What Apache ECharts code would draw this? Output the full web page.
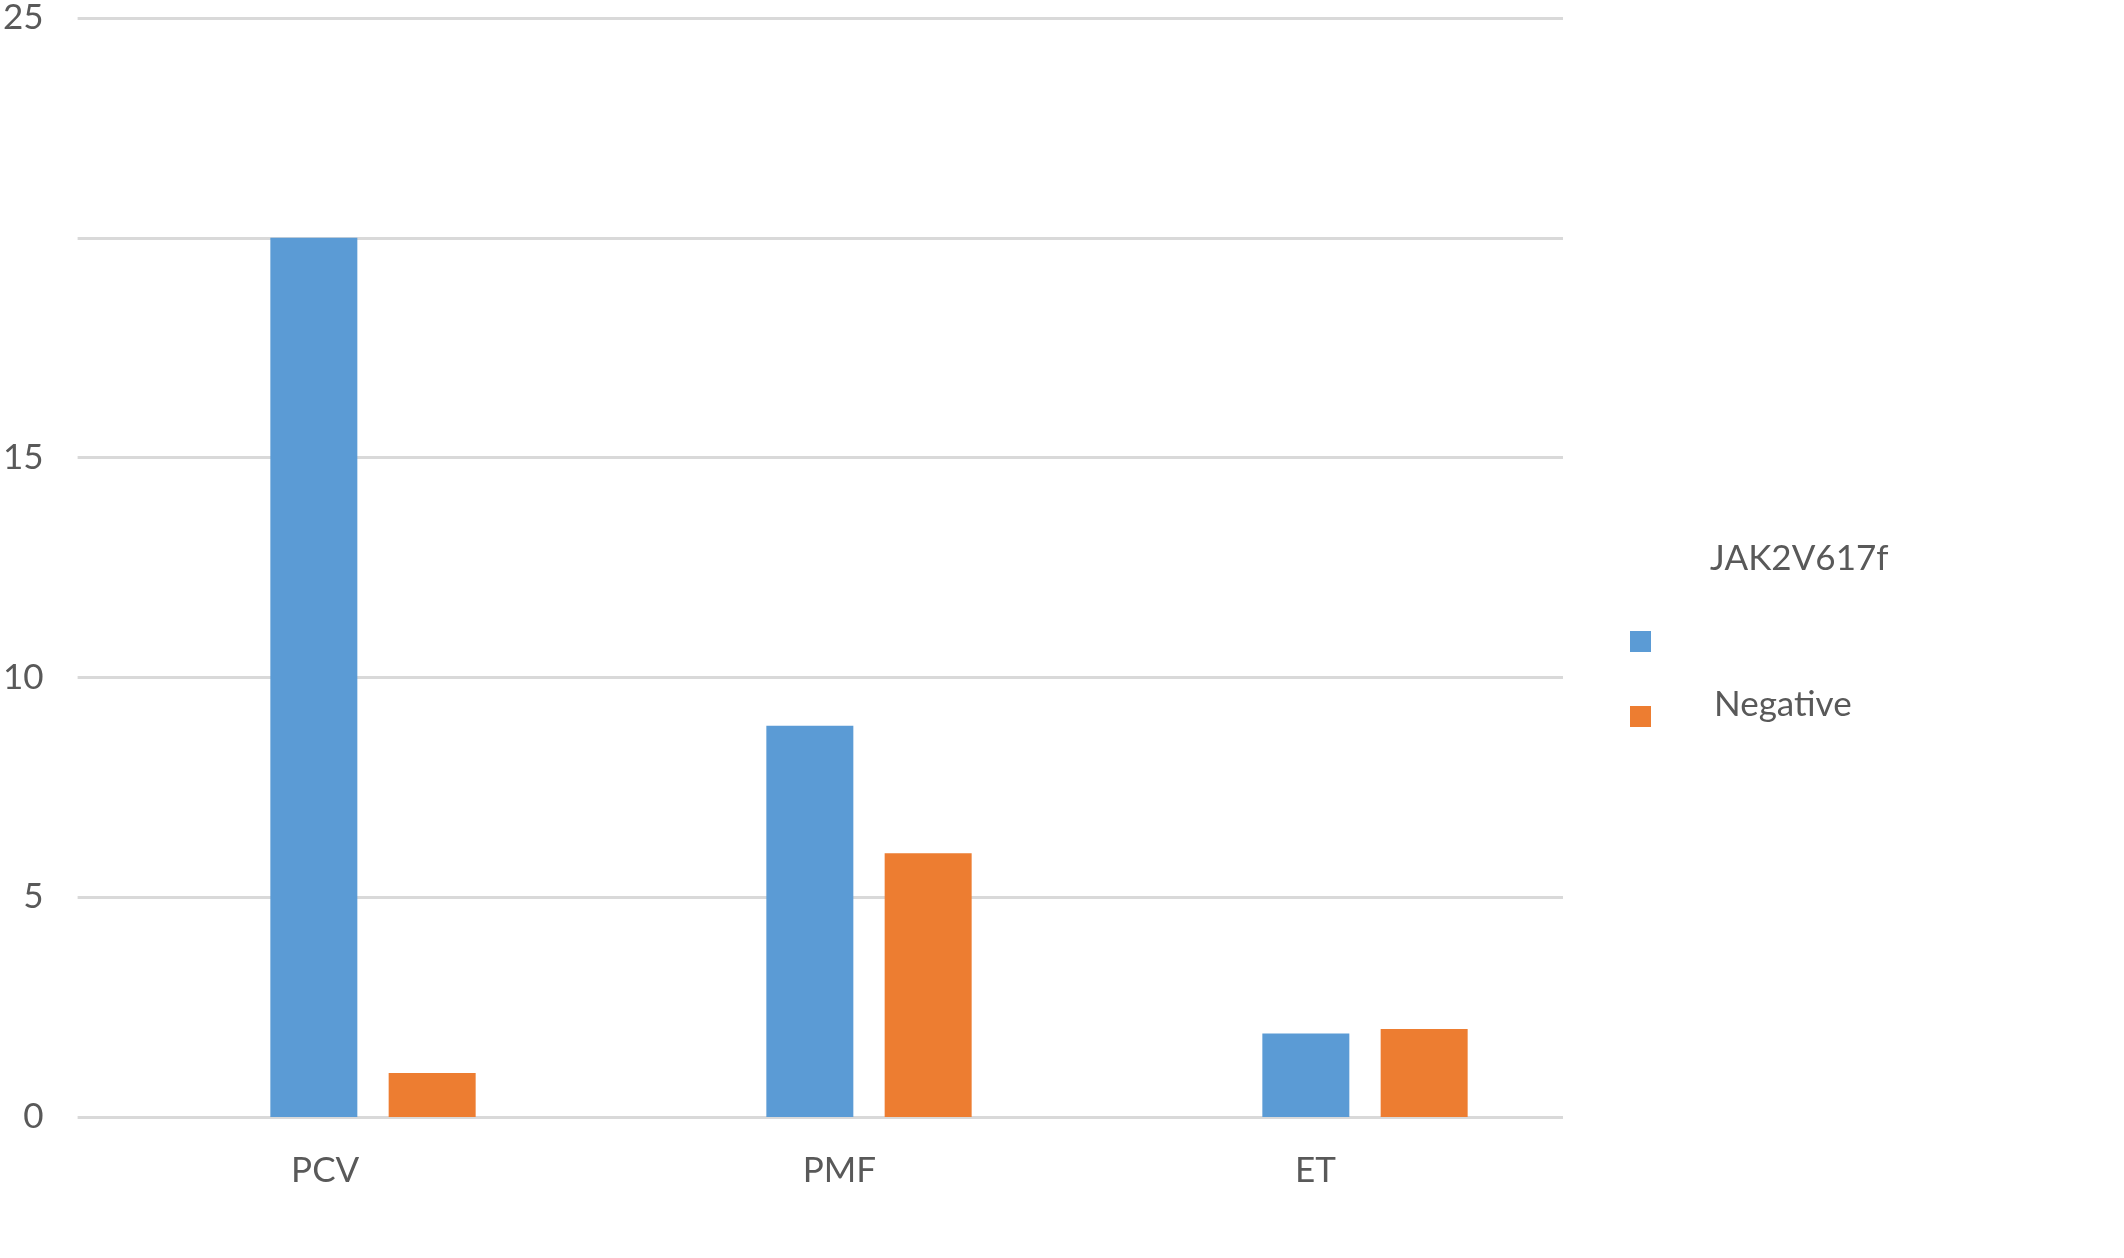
<!DOCTYPE html>
<html>
<head>
<meta charset="utf-8">
<script src="https://cdn.jsdelivr.net/npm/echarts@6/dist/echarts.min.js"></script>
<style>
html,body{margin:0;padding:0;background:#fff;}
#chart{width:2124px;height:1258px;}
</style>
</head>
<body>
<div id="chart"></div>
<script>
const categories = ['PCV', 'PMF', 'ET'];
const seriesNames = [' ', 'Negative'];
const positiveValues = [20, 8.9, 1.9];
const negativeValues = [1, 6, 2];
const yTickLabels = {0: '0', 5: '5', 10: '10', 15: '15', 20: '', 25: '25'};
const legendTitle = 'JAK2V617f';

const FONT = 'Lato, "Open Sans", sans-serif';
const TEXT = '#595959';

const categoryData = categories.map(c => c === 'PMF'
  ? { value: c, textStyle: { padding: [0, 0, 0, 38] } }
  : c);

const chart = echarts.init(document.getElementById('chart'));
chart.setOption({
  backgroundColor: '#ffffff',
  animation: false,
  title: {
    text: legendTitle,
    left: 1705,
    top: 536,
    textStyle: { color: TEXT, fontSize: 35, fontWeight: 'normal', fontFamily: FONT }
  },
  legend: {
    orient: 'vertical',
    left: 1625,
    top: 619,
    itemWidth: 21,
    itemHeight: 21,
    itemGap: 28,
    icon: 'rect',
    data: seriesNames,
    formatter: n => (n === 'Negative' ? '{up|' + n + '}' : n),
    textStyle: {
      color: TEXT, fontSize: 35, fontFamily: FONT, padding: [0, 0, 0, 58],
      rich: { up: { color: TEXT, fontSize: 35, fontFamily: FONT, padding: [0, 0, 24, 0] } }
    }
  },
  grid: [
    { left: 75, right: 561, top: 18, bottom: 141 },
    { left: 125, right: 511, top: 18, bottom: 141 }
  ],
  xAxis: [
    {
      type: 'category', gridIndex: 0, data: categoryData,
      axisLine: { show: false }, axisTick: { show: false },
      axisLabel: { color: TEXT, fontSize: 35, fontFamily: FONT, margin: 36 }
    },
    { type: 'category', gridIndex: 1, data: categories, show: false }
  ],
  yAxis: [
    {
      type: 'value', gridIndex: 0, min: 0, max: 25, interval: 5,
      axisLine: { show: false }, axisTick: { show: false },
      splitLine: { lineStyle: { color: '#D9D9D9', width: 3 } },
      axisLabel: {
        color: TEXT, fontSize: 35, fontFamily: FONT, margin: 34,
        formatter: v => (yTickLabels[v] !== undefined ? yTickLabels[v] : String(v))
      }
    },
    { type: 'value', gridIndex: 1, min: 0, max: 25, interval: 5, show: false }
  ],
  series: [
    {
      name: seriesNames[0], type: 'bar', xAxisIndex: 1, yAxisIndex: 1,
      data: positiveValues, barWidth: 87, barGap: '36%',
      itemStyle: { color: '#5B9BD5' }
    },
    {
      name: seriesNames[1], type: 'bar', xAxisIndex: 1, yAxisIndex: 1,
      data: negativeValues, barWidth: 87, barGap: '36%',
      itemStyle: { color: '#ED7D31' }
    }
  ]
});
</script>
</body>
</html>
